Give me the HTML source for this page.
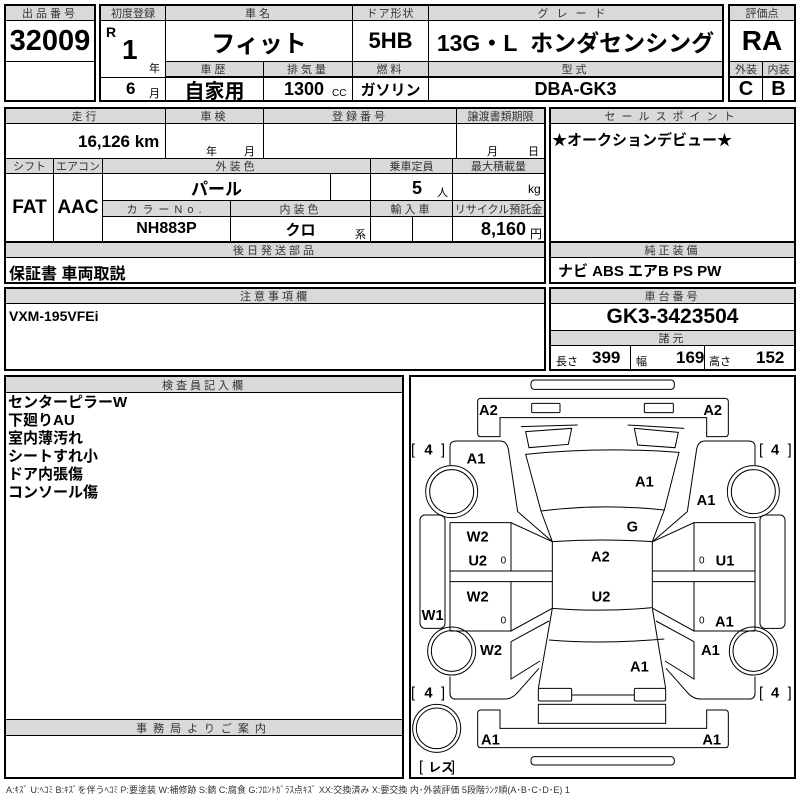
<!DOCTYPE html>
<html><head><meta charset="utf-8"><style>
body{margin:0;width:800px;height:800px;background:#fff;position:relative;overflow:hidden;font-family:"Liberation Sans","Noto Sans CJK JP",sans-serif;}
.c{position:absolute;box-sizing:border-box;border:1px solid #000;display:flex;align-items:center;justify-content:center;white-space:nowrap;overflow:hidden;}
.h{background:#d9d9d9;font-size:11px;color:#333;letter-spacing:3px;}
.b{font-weight:bold;color:#000;}
.o{position:absolute;box-sizing:border-box;border:2px solid #000;}
.t{position:absolute;white-space:nowrap;}
</style></head><body>
<div class="o" style="left:4px;top:4px;width:92px;height:98px"></div>
<div class="c h" style="left:5px;top:5px;width:90px;height:16px">出品番号</div>
<div class="c b" style="left:5px;top:20px;width:90px;height:42px;font-size:29px">32009</div>
<div class="o" style="left:99px;top:4px;width:625px;height:98px"></div>
<div class="c h" style="left:100px;top:5px;width:66px;height:16px;letter-spacing:0">初度登録</div>
<div class="c h" style="left:165px;top:5px;width:188px;height:16px">車名</div>
<div class="c h" style="left:352px;top:5px;width:77px;height:16px;letter-spacing:1px">ドア形状</div>
<div class="c h" style="left:428px;top:5px;width:295px;height:16px;letter-spacing:8px">グレード</div>
<div class="c" style="left:100px;top:20px;width:66px;height:58px"></div>
<div class="t b" style="left:106px;top:24px;font-size:14px">R</div>
<div class="t b" style="left:122px;top:34px;font-size:28px">1</div>
<div class="t" style="left:149px;top:60px;font-size:11px">年</div>
<div class="c b" style="left:165px;top:20px;width:188px;height:42px;font-size:24px">フィット</div>
<div class="c b" style="left:352px;top:20px;width:77px;height:42px;font-size:22px">5HB</div>
<div class="c b" style="left:428px;top:20px;width:295px;height:42px;font-size:23px">13G・L&nbsp; ホンダセンシング</div>
<div class="c h" style="left:165px;top:61px;width:99px;height:16px">車歴</div>
<div class="c h" style="left:263px;top:61px;width:90px;height:16px">排気量</div>
<div class="c h" style="left:352px;top:61px;width:77px;height:16px">燃料</div>
<div class="c h" style="left:428px;top:61px;width:295px;height:16px">型式</div>
<div class="c" style="left:100px;top:77px;width:66px;height:24px"></div>
<div class="t b" style="left:126px;top:79px;font-size:17px">6</div>
<div class="t" style="left:149px;top:85px;font-size:11px">月</div>
<div class="c b" style="left:165px;top:77px;width:99px;height:24px;font-size:20px">自家用</div>
<div class="c" style="left:263px;top:77px;width:90px;height:24px"></div>
<div class="t b" style="left:284px;top:79px;font-size:18px">1300</div>
<div class="t" style="left:332px;top:88px;font-size:10px">CC</div>
<div class="c b" style="left:352px;top:77px;width:77px;height:24px;font-size:15px">ガソリン</div>
<div class="c b" style="left:428px;top:77px;width:295px;height:24px;font-size:18px">DBA-GK3</div>
<div class="o" style="left:728px;top:4px;width:68px;height:98px"></div>
<div class="c h" style="left:729px;top:5px;width:66px;height:16px;letter-spacing:0">評価点</div>
<div class="c b" style="left:729px;top:20px;width:66px;height:42px;font-size:28px">RA</div>
<div class="c h" style="left:729px;top:61px;width:34px;height:16px;letter-spacing:0">外装</div>
<div class="c h" style="left:762px;top:61px;width:33px;height:16px;letter-spacing:0">内装</div>
<div class="c b" style="left:729px;top:77px;width:34px;height:24px;font-size:20px">C</div>
<div class="c b" style="left:762px;top:77px;width:33px;height:24px;font-size:20px">B</div>
<div class="o" style="left:4px;top:107px;width:542px;height:136px"></div>
<div class="c h" style="left:5px;top:108px;width:161px;height:16px">走行</div>
<div class="c h" style="left:165px;top:108px;width:99px;height:16px">車検</div>
<div class="c h" style="left:263px;top:108px;width:194px;height:16px">登録番号</div>
<div class="c h" style="left:456px;top:108px;width:89px;height:16px;letter-spacing:0">譲渡書類期限</div>
<div class="c" style="left:5px;top:123px;width:161px;height:36px"></div>
<div class="t b" style="left:78px;top:132px;font-size:17px">16,126 km</div>
<div class="c" style="left:165px;top:123px;width:99px;height:36px"></div>
<div class="t" style="left:206px;top:143px;font-size:11px">年</div>
<div class="t" style="left:244px;top:143px;font-size:11px">月</div>
<div class="c" style="left:263px;top:123px;width:194px;height:36px"></div>
<div class="c" style="left:456px;top:123px;width:89px;height:36px"></div>
<div class="t" style="left:487px;top:143px;font-size:11px">月</div>
<div class="t" style="left:528px;top:143px;font-size:11px">日</div>
<div class="c h" style="left:5px;top:158px;width:49px;height:16px;letter-spacing:0">シフト</div>
<div class="c h" style="left:53px;top:158px;width:50px;height:16px;letter-spacing:0">エアコン</div>
<div class="c h" style="left:102px;top:158px;width:269px;height:16px">外装色</div>
<div class="c h" style="left:370px;top:158px;width:83px;height:16px;letter-spacing:0">乗車定員</div>
<div class="c h" style="left:452px;top:158px;width:93px;height:16px;letter-spacing:0">最大積載量</div>
<div class="c b" style="left:5px;top:173px;width:49px;height:69px;font-size:19px">FAT</div>
<div class="c b" style="left:53px;top:173px;width:50px;height:69px;font-size:19px">AAC</div>
<div class="c b" style="left:102px;top:173px;width:229px;height:28px;font-size:17px">パール</div>
<div class="c" style="left:330px;top:173px;width:41px;height:28px"></div>
<div class="c" style="left:370px;top:173px;width:83px;height:28px"></div>
<div class="t b" style="left:412px;top:178px;font-size:18px">5</div>
<div class="t" style="left:437px;top:184px;font-size:11px">人</div>
<div class="c" style="left:452px;top:173px;width:93px;height:28px"></div>
<div class="t" style="left:528px;top:182px;font-size:12px">kg</div>
<div class="c h" style="left:102px;top:200px;width:129px;height:17px;letter-spacing:5px">カラーNo.</div>
<div class="c h" style="left:230px;top:200px;width:141px;height:17px">内装色</div>
<div class="c h" style="left:370px;top:200px;width:83px;height:17px">輸入車</div>
<div class="c h" style="left:452px;top:200px;width:93px;height:17px;letter-spacing:0">リサイクル預託金</div>
<div class="c b" style="left:102px;top:216px;width:129px;height:26px;font-size:16px">NH883P</div>
<div class="c b" style="left:230px;top:216px;width:141px;height:26px;font-size:15px">クロ</div>
<div class="t" style="left:355px;top:226px;font-size:11px">系</div>
<div class="c" style="left:370px;top:216px;width:43px;height:26px"></div>
<div class="c" style="left:412px;top:216px;width:41px;height:26px"></div>
<div class="c" style="left:452px;top:216px;width:93px;height:26px"></div>
<div class="t b" style="left:481px;top:219px;font-size:18px">8,160</div>
<div class="t" style="left:530px;top:225px;font-size:12px">円</div>
<div class="o" style="left:549px;top:107px;width:247px;height:136px"></div>
<div class="c h" style="left:550px;top:108px;width:245px;height:16px;letter-spacing:6px">セールスポイント</div>
<div class="t b" style="left:552px;top:129px;font-size:15px">★オークションデビュー★</div>
<div class="o" style="left:4px;top:241px;width:542px;height:43px"></div>
<div class="c h" style="left:5px;top:242px;width:540px;height:16px">後日発送部品</div>
<div class="t b" style="left:9px;top:260px;font-size:16px">保証書 車両取説</div>
<div class="o" style="left:549px;top:241px;width:247px;height:43px"></div>
<div class="c h" style="left:550px;top:242px;width:245px;height:16px">純正装備</div>
<div class="t b" style="left:558px;top:260px;font-size:15px">ナビ ABS エアB PS PW</div>
<div class="o" style="left:4px;top:287px;width:542px;height:84px"></div>
<div class="c h" style="left:5px;top:288px;width:540px;height:16px">注意事項欄</div>
<div class="t b" style="left:9px;top:308px;font-size:14px">VXM-195VFEi</div>
<div class="o" style="left:549px;top:287px;width:247px;height:84px"></div>
<div class="c h" style="left:550px;top:288px;width:245px;height:16px">車台番号</div>
<div class="c b" style="left:550px;top:303px;width:245px;height:28px;font-size:21px">GK3-3423504</div>
<div class="c h" style="left:550px;top:330px;width:245px;height:16px">諸元</div>
<div class="c" style="left:550px;top:345px;width:81px;height:25px"></div>
<div class="c" style="left:630px;top:345px;width:75px;height:25px"></div>
<div class="c" style="left:704px;top:345px;width:91px;height:25px"></div>
<div class="t" style="left:556px;top:353px;font-size:11px">長さ</div><div class="t b" style="left:592px;top:348px;font-size:17px">399</div>
<div class="t" style="left:636px;top:353px;font-size:11px">幅</div><div class="t b" style="left:676px;top:348px;font-size:17px">169</div>
<div class="t" style="left:709px;top:353px;font-size:11px">高さ</div><div class="t b" style="left:756px;top:348px;font-size:17px">152</div>
<div class="o" style="left:4px;top:375px;width:400px;height:404px"></div>
<div class="c h" style="left:5px;top:376px;width:398px;height:17px">検査員記入欄</div>
<div class="t b" style="left:8px;top:394px;font-size:15px;line-height:18px">センターピラーW<br>下廻りAU<br>室内薄汚れ<br>シートすれ小<br>ドア内張傷<br>コンソール傷</div>
<div class="c h" style="left:5px;top:719px;width:398px;height:17px;letter-spacing:6px">事務局よりご案内</div>
<div class="o" style="left:409px;top:375px;width:387px;height:404px"></div>
<svg style="position:absolute;left:405px;top:375px" width="395" height="410" viewBox="0 0 1185 1230" fill="none" stroke="#000" stroke-width="3">
<rect x="378" y="15" width="430" height="28" rx="10"/>
<path d="M228,70 L960,70 Q970,70 970,80 L970,175 Q970,185 960,185 L905,185 L905,128 L285,128 L285,185 L228,185 Q218,185 218,175 L218,80 Q218,70 228,70 Z"/>
<rect x="380" y="85" width="85" height="28" rx="3"/><rect x="718" y="85" width="87" height="28" rx="3"/>
<path d="M348,155 L518,150 M668,150 L838,160"/>
<path d="M362,170 L500,160 L490,208 L372,218 Z M688,160 L820,172 L810,218 L698,210 Z"/>
<path d="M362,238 Q590,215 822,232 L778,405 Q590,385 408,408 Z"/>
<path d="M408,408 L442,500 M778,405 L742,500"/>
<path d="M442,500 Q590,490 742,500 L742,698 Q590,712 442,700 Z"/>
<path d="M432,795 Q590,808 778,792"/>
<path d="M442,700 L400,940 M742,700 L782,940"/>
<rect x="400" y="940" width="100" height="38" rx="4"/><rect x="688" y="940" width="94" height="38" rx="4"/>
<path d="M500,960 L688,960"/>
<rect x="400" y="988" width="382" height="57"/>
<path d="M228,1005 L285,1005 L285,1060 L905,1060 L905,1005 L960,1005 Q970,1005 970,1015 L970,1108 Q970,1118 960,1118 L228,1118 Q218,1118 218,1108 L218,1015 Q218,1005 228,1005 Z"/>
<rect x="378" y="1145" width="430" height="25" rx="10"/>
<circle cx="95" cy="1060" r="72"/><circle cx="95" cy="1060" r="61"/>
<g id="side">
<path d="M135,270 L135,215 Q135,198 155,198 L285,198 Q305,198 310,222 L338,410 L442,500"/>
<circle cx="140" cy="350" r="78"/><circle cx="140" cy="350" r="66"/>
<rect x="45" y="420" width="75" height="340" rx="15"/>
<path d="M135,443 L318,443 L442,500 M318,443 L318,588 M135,443 L135,768 M135,588 L442,588 M135,620 L442,620 M318,620 L318,768 L442,700 M135,768 L318,768"/>
<circle cx="140" cy="828" r="72"/><circle cx="140" cy="828" r="61"/>
<path d="M318,800 L318,912 L405,858 M318,800 L432,738"/>
<path d="M135,905 L135,955 Q135,972 152,972 L300,972 Q322,972 340,950 L402,880"/>
</g>
<use href="#side" transform="translate(1185,0) scale(-1,1)"/>
<g fill="#000" stroke="none" font-family="Liberation Sans, sans-serif" font-weight="bold" font-size="44">
<text x="222" y="120">A2</text><text x="895" y="120">A2</text>
<text x="185" y="265">A1</text><text x="690" y="335">A1</text><text x="875" y="390">A1</text>
<text x="665" y="470">G</text>
<text x="185" y="500">W2</text><text x="190" y="572">U2</text><text x="558" y="560">A2</text><text x="932" y="572">U1</text>
<text x="185" y="680">W2</text><text x="560" y="680">U2</text><text x="50" y="735">W1</text>
<text x="930" y="755">A1</text><text x="225" y="840">W2</text><text x="888" y="840">A1</text><text x="675" y="890">A1</text>
<text x="228" y="1108">A1</text><text x="892" y="1108">A1</text>
<text x="18" y="238" font-weight="normal">[</text><text x="58" y="238">4</text><text x="108" y="238" font-weight="normal">]</text>
<text x="1062" y="238" font-weight="normal">[</text><text x="1098" y="238">4</text><text x="1148" y="238" font-weight="normal">]</text>
<text x="18" y="968" font-weight="normal">[</text><text x="58" y="968">4</text><text x="108" y="968" font-weight="normal">]</text>
<text x="1062" y="968" font-weight="normal">[</text><text x="1098" y="968">4</text><text x="1148" y="968" font-weight="normal">]</text>
<text x="42" y="1190" font-weight="normal">[</text><text x="70" y="1190" font-size="38" font-family="Liberation Sans, Noto Sans CJK JP, sans-serif">レス</text><text x="138" y="1190" font-weight="normal">]</text>
<text x="287" y="565" font-size="30" font-weight="normal">0</text><text x="882" y="565" font-size="30" font-weight="normal">0</text>
<text x="287" y="745" font-size="30" font-weight="normal">0</text><text x="882" y="745" font-size="30" font-weight="normal">0</text>
</g>
</svg>
<div class="t" style="left:6px;top:783px;font-size:9px;color:#333">A:ｷｽﾞ U:ﾍｺﾐ B:ｷｽﾞを伴うﾍｺﾐ P:要塗装 W:補修跡 S:錆 C:腐食 G:ﾌﾛﾝﾄｶﾞﾗｽ点ｷｽﾞ XX:交換済み X:要交換 内･外装評価 5段階ﾗﾝｸ順(A･B･C･D･E) 1</div>
</body></html>
